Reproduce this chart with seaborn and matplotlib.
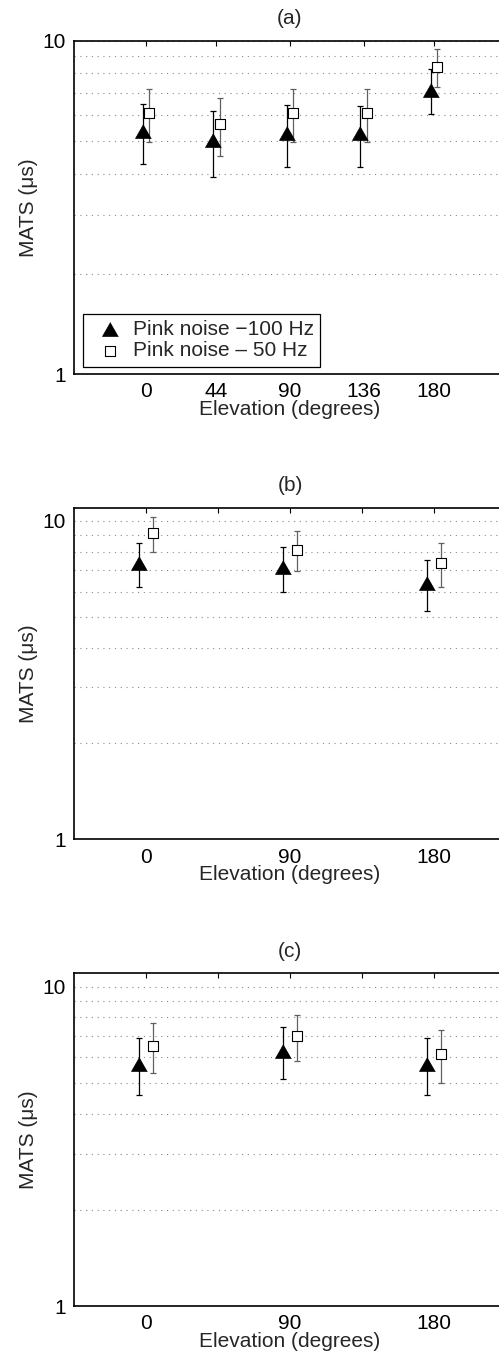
import numpy as np
import pandas as pd
import matplotlib
matplotlib.use("Agg")
import matplotlib.pyplot as plt
import seaborn as sns
from matplotlib.ticker import FixedLocator, NullFormatter, FixedFormatter

sns.set_style("white")
plt.rcParams['font.family'] = ['Liberation Sans', 'DejaVu Sans']

# ---------------- data ----------------
series_names = ["Pink noise \u2212100 Hz", "Pink noise \u2013 50 Hz"]

elev_a = [0, 44, 90, 136, 180]
tri_a = [5.38, 5.04, 5.31, 5.28, 7.13]
tri_a_err = [1.10, 1.13, 1.12, 1.11, 1.10]
sq_a = [6.09, 5.62, 6.09, 6.06, 8.38]
sq_a_err = [1.10, 1.11, 1.10, 1.10, 1.10]

elev_b = [0, 90, 180]
tri_b = [7.36, 7.15, 6.37]
tri_b_err = [1.15, 1.15, 1.17]
sq_b = [9.15, 8.11, 7.36]
sq_b_err = [1.15, 1.16, 1.18]

elev_c = [0, 90, 180]
tri_c = [5.74, 6.29, 5.74]
tri_c_err = [1.15, 1.16, 1.15]
sq_c = [6.52, 6.99, 6.14]
sq_c_err = [1.15, 1.15, 1.15]

panel_titles = ["(a)", "(b)", "(c)"]
xlabel = "Elevation (degrees)"
ylabel = "MATS (\u03bcs)"
ytick_labels = ["1", "10"]

# ---------------- layout ----------------
W, H = 499, 1354
fig = plt.figure(figsize=(W / 100, H / 100), dpi=100)
FS = 15

panels = [
    dict(elev=elev_a, tri=tri_a, tri_e=tri_a_err, sq=sq_a, sq_e=sq_a_err,
         top=41, bot=374, ymax=10, off=2.0,
         xticks=[0, 44, 90, 136, 180], xlabels=["0", "44", "90", "136", "180"], legend=True),
    dict(elev=elev_b, tri=tri_b, tri_e=tri_b_err, sq=sq_b, sq_e=sq_b_err,
         top=507.7, bot=839.3, ymax=11, off=4.5,
         xticks=[0, 45, 90, 135, 180], xlabels=["0", "", "90", "", "180"], legend=False),
    dict(elev=elev_c, tri=tri_c, tri_e=tri_c_err, sq=sq_c, sq_e=sq_c_err,
         top=973.3, bot=1306, ymax=11, off=4.5,
         xticks=[0, 45, 90, 135, 180], xlabels=["0", "", "90", "", "180"], legend=False),
]

tri_marker = [(0, 0.875), (-1, -0.875), (1, -0.875)]

for i, p in enumerate(panels):
    ax = fig.add_axes([74 / W, (H - p['bot']) / H, 432 / W, (p['bot'] - p['top']) / H])
    df = pd.DataFrame({
        'x_tri': np.array(p['elev']) - p['off'],
        'x_sq': np.array(p['elev']) + p['off'],
        'tri': p['tri'], 'tri_e': p['tri_e'],
        'sq': p['sq'], 'sq_e': p['sq_e'],
    })
    ax.set_yscale('log')
    # grid
    for yv in list(range(2, 10)) + [10]:
        ax.axhline(yv, color='#8a8a8a', lw=0.8, ls=(0, (1, 4.2)), zorder=0.5)
    ax.errorbar(df['x_tri'], df['tri'], yerr=df['tri_e'], fmt='none', ecolor='black',
                elinewidth=0.9, capsize=2.3, capthick=0.9, zorder=2)
    ax.errorbar(df['x_sq'], df['sq'], yerr=df['sq_e'], fmt='none', ecolor='#606060',
                elinewidth=0.9, capsize=2.3, capthick=0.9, zorder=2)
    sns.scatterplot(data=df, x='x_tri', y='tri', marker=tri_marker, s=132, color='black',
                    edgecolor='black', linewidth=0.5, ax=ax, zorder=3,
                    label=series_names[0] if p['legend'] else None)
    sns.scatterplot(data=df, x='x_sq', y='sq', marker='s', s=56, color='white',
                    edgecolor='black', linewidth=0.8, ax=ax, zorder=3,
                    label=series_names[1] if p['legend'] else None)

    ax.set_xlim(-45, 225)
    ax.set_ylim(1, p['ymax'])
    ax.yaxis.set_major_locator(FixedLocator([1, 10]))
    ax.yaxis.set_major_formatter(FixedFormatter(ytick_labels))
    ax.yaxis.set_minor_locator(FixedLocator(list(range(2, 10))))
    ax.yaxis.set_minor_formatter(NullFormatter())
    ax.xaxis.set_major_locator(FixedLocator(p['xticks']))
    ax.xaxis.set_major_formatter(FixedFormatter(p['xlabels']))
    ax.tick_params(which='both', direction='in', top=True, right=True, colors='black',
                   labelsize=FS, width=0.8)
    ax.tick_params(which='major', length=3.5, pad=6)
    ax.tick_params(which='minor', length=2)
    for sp in ax.spines.values():
        sp.set_color('black')
        sp.set_linewidth(1.2)
    ax.set_xlabel(xlabel, fontsize=FS, labelpad=-1)
    ax.set_ylabel(ylabel, fontsize=FS, labelpad=3)
    ax.set_title(panel_titles[i], fontsize=FS, pad=12)

    if p['legend']:
        leg = ax.legend(loc='lower left', bbox_to_anchor=(0.020, 0.022), borderaxespad=0,
                        fontsize=FS, frameon=True, fancybox=False, framealpha=1,
                        edgecolor='black', handlelength=2.0, handletextpad=0.1,
                        borderpad=0.3, labelspacing=0.12)
        leg.get_frame().set_linewidth(0.9)
    elif ax.get_legend() is not None:
        ax.get_legend().remove()

fig.savefig("out.png", dpi=100)
